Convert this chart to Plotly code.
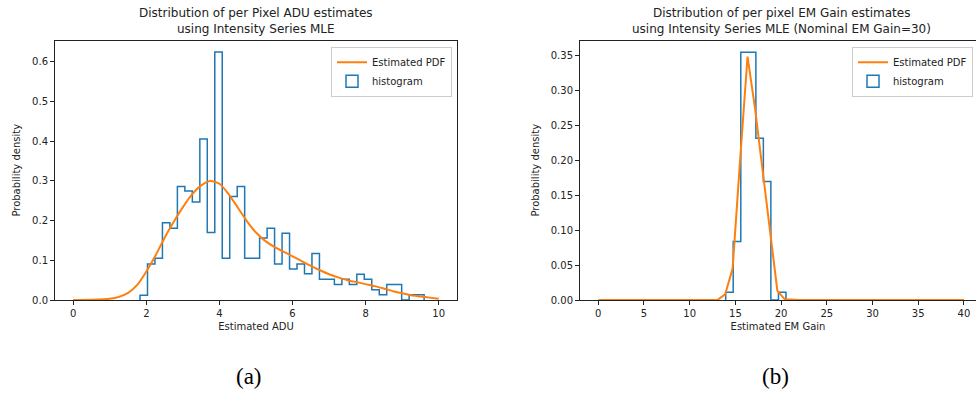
import numpy as np
import plotly.graph_objects as go

# ---------------- Panel (a): per-pixel ADU estimates ----------------
adu_edges = [1.826, 2.031, 2.235, 2.440, 2.644, 2.849, 3.053, 3.258, 3.463, 3.667,
             3.872, 4.076, 4.281, 4.486, 4.690, 4.895, 5.099, 5.304, 5.508, 5.713,
             5.918, 6.122, 6.327, 6.531, 6.736, 6.940, 7.145, 7.350, 7.554, 7.759,
             7.963, 8.168, 8.373, 8.577, 8.782, 8.986, 9.191, 9.395, 9.600]
adu_density = [0.012, 0.091, 0.105, 0.195, 0.181, 0.286, 0.275, 0.247, 0.406, 0.170,
               0.625, 0.105, 0.261, 0.286, 0.105, 0.105, 0.156, 0.181, 0.091, 0.168,
               0.078, 0.091, 0.066, 0.117, 0.052, 0.052, 0.039, 0.052, 0.039, 0.065,
               0.052, 0.026, 0.013, 0.039, 0.039, 0.000, 0.013, 0.013]
adu_pdf_x = [0.0, 0.5, 1.0, 1.25, 1.5, 1.75, 2.0, 2.25, 2.5, 2.75, 3.0, 3.25, 3.5,
             3.75, 4.0, 4.25, 4.5, 4.75, 5.0, 5.25, 5.5, 5.75, 6.0, 6.25, 6.5, 6.75,
             7.0, 7.25, 7.5, 7.75, 8.0, 8.25, 8.5, 8.75, 9.0, 9.25, 9.5, 9.75, 10.0]
adu_pdf_y = [0.0, 0.0005, 0.003, 0.008, 0.018, 0.038, 0.072, 0.112, 0.157, 0.197,
             0.234, 0.266, 0.289, 0.300, 0.293, 0.267, 0.233, 0.199, 0.170, 0.149,
             0.134, 0.122, 0.110, 0.098, 0.086, 0.075, 0.065, 0.057, 0.050, 0.045,
             0.040, 0.035, 0.029, 0.022, 0.017, 0.012, 0.009, 0.006, 0.003]
adu_xticks = [0, 2, 4, 6, 8, 10]
adu_yticks = [0.0, 0.1, 0.2, 0.3, 0.4, 0.5, 0.6]

# ---------------- Panel (b): per-pixel EM gain estimates ----------------
gain_edges = [13.94, 14.76, 15.59, 16.41, 17.24, 18.06, 18.88, 19.71, 20.53]
gain_density = [0.011, 0.084, 0.355, 0.355, 0.232, 0.170, 0.000, 0.011]
gain_pdf_x = list(np.linspace(0, 40, 50))
gain_pdf_y = [0.0] * 16 + [0.0003, 0.008, 0.045, 0.200, 0.349, 0.275, 0.190,
                            0.100, 0.013, 0.001] + [0.0] * 24
gain_xticks = [0, 5, 10, 15, 20, 25, 30, 35, 40]
gain_yticks = [0.00, 0.05, 0.10, 0.15, 0.20, 0.25, 0.30, 0.35]

BLUE = "#1f77b4"
ORANGE = "#ff7f0e"
TXT = "#222222"
W, H = 976, 395


def px(x):
    return x / W


def py(y):
    return 1 - y / H


def step_xy(edges, vals):
    xs = [edges[0]] + list(edges)
    ys = [0] + list(vals) + [0]
    return xs, ys


fig = go.Figure()

# panel (a)
sx, sy = step_xy(adu_edges, adu_density)
fig.add_trace(go.Scatter(x=sx, y=sy, mode="lines", line=dict(color=BLUE, width=1.5, shape="hv"),
                         showlegend=False, xaxis="x", yaxis="y", hoverinfo="skip"))
fig.add_trace(go.Scatter(x=adu_pdf_x, y=adu_pdf_y, mode="lines", name="Estimated PDF",
                         line=dict(color=ORANGE, width=2, shape="spline", smoothing=0.6),
                         xaxis="x", yaxis="y", legend="legend", legendrank=1))
fig.add_trace(go.Bar(x=[None], y=[None], name="histogram", xaxis="x", yaxis="y",
                     marker=dict(color="rgba(0,0,0,0)", line=dict(color=BLUE, width=1.5)),
                     legend="legend", legendrank=2))

# panel (b)
sx, sy = step_xy(gain_edges, gain_density)
fig.add_trace(go.Scatter(x=sx, y=sy, mode="lines", line=dict(color=BLUE, width=1.5, shape="hv"),
                         showlegend=False, xaxis="x2", yaxis="y2", hoverinfo="skip"))
fig.add_trace(go.Scatter(x=gain_pdf_x, y=gain_pdf_y, mode="lines", name="Estimated PDF",
                         line=dict(color=ORANGE, width=2),
                         xaxis="x2", yaxis="y2", legend="legend2", legendrank=1))
fig.add_trace(go.Bar(x=[None], y=[None], name="histogram", xaxis="x2", yaxis="y2",
                     marker=dict(color="rgba(0,0,0,0)", line=dict(color=BLUE, width=1.5)),
                     legend="legend2", legendrank=2))

axis_common = dict(ticks="outside", ticklen=4, tickwidth=1, tickcolor=TXT,
                   showline=True, linecolor=TXT, linewidth=1, showgrid=False,
                   zeroline=False, tickfont=dict(size=10, color=TXT))

ydom = [py(300), py(40.5)]

legend_common = dict(xanchor="right", yanchor="top", bgcolor="rgba(255,255,255,0.8)",
                     bordercolor="#cccccc", borderwidth=1,
                     font=dict(size=10, color=TXT, family="DejaVu Sans"),
                     tracegroupgap=0, itemwidth=30)

fig.update_layout(
    width=W, height=H,
    margin=dict(l=0, r=0, t=0, b=0, autoexpand=False),
    paper_bgcolor="white", plot_bgcolor="white",
    font=dict(family="DejaVu Sans", size=10, color=TXT),
    xaxis=dict(domain=[px(55), px(457)], range=[-0.5, 10.5], tickvals=adu_xticks,
               mirror=True, anchor="y", type="linear",
               title=dict(text="Estimated ADU", font=dict(size=10, color=TXT), standoff=4),
               **axis_common),
    yaxis=dict(domain=ydom, range=[0, 0.654], tickvals=adu_yticks, tickformat=".1f",
               mirror=True, anchor="x",
               title=dict(text="Probability density", font=dict(size=10, color=TXT), standoff=9),
               **axis_common),
    xaxis2=dict(domain=[px(580), 1.0], range=[-2, 41.32], tickvals=gain_xticks,
                mirror=True, anchor="y2", type="linear",
                title=dict(text="Estimated EM Gain", font=dict(size=10, color=TXT), standoff=4),
                **axis_common),
    yaxis2=dict(domain=ydom, range=[0, 0.372], tickvals=gain_yticks, tickformat=".2f",
                mirror=False, anchor="x2",
                title=dict(text="Probability density", font=dict(size=10, color=TXT), standoff=9),
                **axis_common),
    legend=dict(x=px(452), y=py(46.7), **legend_common),
    legend2=dict(x=px(973), y=py(46.7), **legend_common),
    bargap=0,
)

annots = [
    dict(text="Distribution of per Pixel ADU estimates", x=px(256), y=py(13)),
    dict(text="using Intensity Series MLE", x=px(256), y=py(29)),
    dict(text="Distribution of per pixel EM Gain estimates", x=px(781), y=py(13)),
    dict(text="using Intensity Series MLE (Nominal EM Gain=30)", x=px(781), y=py(29)),
]
for a in annots:
    fig.add_annotation(xref="paper", yref="paper", showarrow=False, xanchor="center",
                       yanchor="middle", font=dict(size=12, color=TXT, family="DejaVu Sans"), **a)

for txt, xc in [("(a)", 249), ("(b)", 775)]:
    fig.add_annotation(text=txt, xref="paper", yref="paper", x=px(xc), y=py(376),
                       showarrow=False, xanchor="center", yanchor="middle",
                       font=dict(size=23, color="black", family="Liberation Serif"))

fig.write_html("out.html", config={"displayModeBar": False},
               post_script="document.body.style.margin='0';document.body.style.overflow='hidden';")
